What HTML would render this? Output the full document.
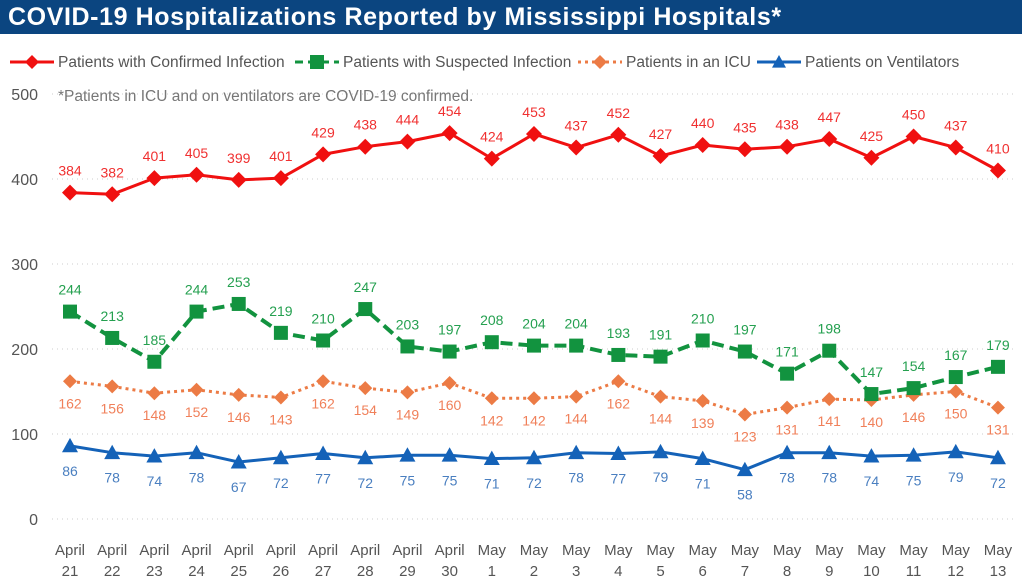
<!DOCTYPE html>
<html><head><meta charset="utf-8"><style>
body{margin:0;width:1024px;height:584px;background:#fff;overflow:hidden;font-family:"Liberation Sans",sans-serif}
#title{position:absolute;left:0;top:0;width:1022px;height:34px;background:#0b4580;color:#fff;font-weight:bold;font-size:25px;line-height:34px;padding-left:8px;box-sizing:border-box;letter-spacing:0.6px}
svg{position:absolute;left:0;top:0}
</style></head><body>
<div id="title">COVID-19 Hospitalizations Reported by Mississippi Hospitals*</div>
<svg id="chart" width="1024" height="584"></svg>
<script>
const categories=[["April","21"],["April","22"],["April","23"],["April","24"],["April","25"],["April","26"],["April","27"],["April","28"],["April","29"],["April","30"],["May","1"],["May","2"],["May","3"],["May","4"],["May","5"],["May","6"],["May","7"],["May","8"],["May","9"],["May","10"],["May","11"],["May","12"],["May","13"]];
const confirmed=[384,382,401,405,399,401,429,438,444,454,424,453,437,452,427,440,435,438,447,425,450,437,410];
const suspected=[244,213,185,244,253,219,210,247,203,197,208,204,204,193,191,210,197,171,198,147,154,167,179];
const icu=[162,156,148,152,146,143,162,154,149,160,142,142,144,162,144,139,123,131,141,140,146,150,131];
const vent=[86,78,74,78,67,72,77,72,75,75,71,72,78,77,79,71,58,78,78,74,75,79,72];
const yTicks=[0,100,200,300,400,500];
const NS="http://www.w3.org/2000/svg";
const svg=document.getElementById('chart');
const X=i=>70+i*42.18, Y=v=>519-0.85*v;
function el(t,a,p){const e=document.createElementNS(NS,t);for(const k in a)e.setAttribute(k,a[k]);(p||svg).appendChild(e);return e;}
yTicks.forEach(t=>{
 const g=el('line',{x1:52,x2:1015,y1:Y(t),y2:Y(t),stroke:'#ccc','stroke-dasharray':'1 4'});
 
 
 const tx=el('text',{x:38,y:Y(t)+6,'text-anchor':'end','font-size':16,fill:'#555'});tx.textContent=t;
 
 
});
categories.forEach((c,i)=>{
 const tx=el('text',{x:X(i),'text-anchor':'middle','font-size':15,fill:'#555'});
 
 
 const a=el('tspan',{x:X(i),y:555},tx);a.textContent=c[0];
 const b=el('tspan',{x:X(i),y:576},tx);b.textContent=c[1];
});
const note=el('text',{x:58,y:101,'font-size':15.5,fill:'#777'});note.textContent='*Patients in ICU and on ventilators are COVID-19 confirmed.';


function marker(type,x,y,color,s){
 if(type==='diamond')return el('polygon',{points:`${x},${y-s} ${x+s},${y} ${x},${y+s} ${x-s},${y}`,fill:color});
 if(type==='square')return el('rect',{x:x-s,y:y-s,width:2*s,height:2*s,fill:color});
 return el('polygon',{points:`${x},${y-s} ${x+s},${y+s*0.8} ${x-s},${y+s*0.8}`,fill:color});
}
function series(name,data,color,lab,width,dash,type,ms,off){
 const g=el('g',{});
 
 
 const p=el('polyline',{points:data.map((v,i)=>X(i)+','+Y(v)).join(' '),fill:'none',stroke:color,'stroke-width':width,'stroke-dasharray':dash,'stroke-linejoin':'round'},g);
 
 
 data.forEach((v,i)=>{
  const m=marker(type,X(i),Y(v),color,ms);g.appendChild(m);
  
  
  const t=el('text',{x:X(i),y:Y(v)+off,'text-anchor':'middle','font-size':14,fill:lab},g);t.textContent=v;
  
  
 });
}
series('icu',icu,'#ec7b45','#f0805a',3,'3 4','diamond',7,27);
series('ventilators',vent,'#1462b8','#4a7fc0',3,'', 'triangle',8,30);
series('suspected',suspected,'#12933f','#25a050',4,'12 6','square',7,-17);
series('confirmed',confirmed,'#f01010','#f03030',3,'','diamond',8,-17);
const leg=[['Patients with Confirmed Infection','#f01010','','diamond',10],['Patients with Suspected Infection','#12933f','8 5','square',295],['Patients in an ICU','#ec7b45','3 4','diamond',578],['Patients on Ventilators','#1462b8','','triangle',757]];
leg.forEach(l=>{
 const g=el('g',{});
 
 
 el('line',{x1:l[4],x2:l[4]+44,y1:62,y2:62,stroke:l[1],'stroke-width':3,'stroke-dasharray':l[2]},g);
 g.appendChild(marker(l[3],l[4]+22,62,l[1],7));
 const t=el('text',{x:l[4]+48,y:67,'font-size':15.5,fill:'#555'},g);t.textContent=l[0];
});
</script>
</body></html>
